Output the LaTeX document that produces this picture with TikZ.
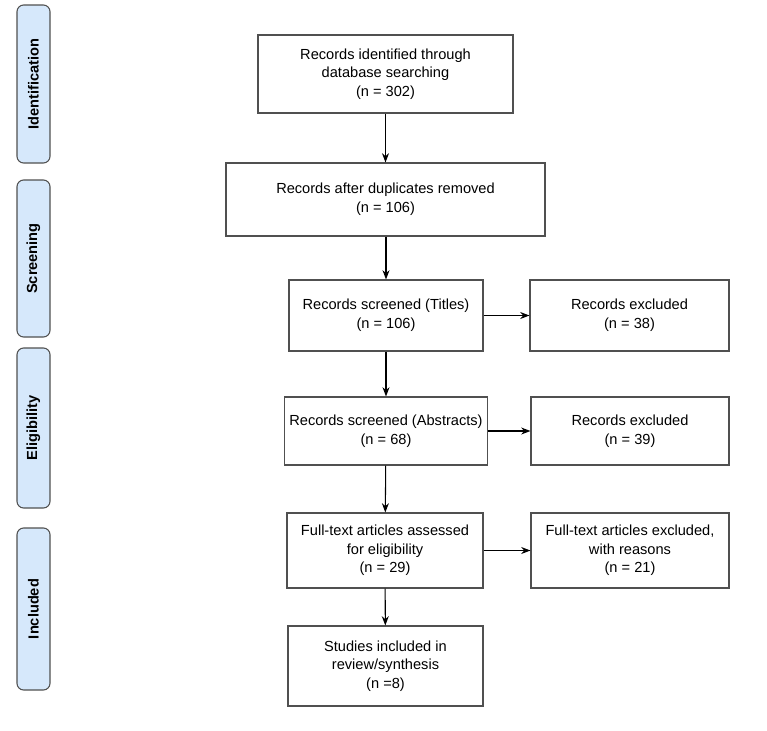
\documentclass[tikz,border=0pt]{standalone}
\usepackage{fontspec}
\setmainfont{Liberation Sans}
\usetikzlibrary{arrows.meta}
\usetikzlibrary{positioning}
\definecolor{phaseBlue}{RGB}{214,232,251}
\definecolor{boxGray}{RGB}{80,80,80}
\tikzset{
  phase/.style = {draw=boxGray,thick,fill=phaseBlue,rounded corners=5pt},
  stage/.style = {draw=boxGray,thick,align=center,font=\fontsize{11}{14}\selectfont},
  arrow/.style = {thick,-{Stealth[length=7pt]}},
}

\begin{document}
\begin{tikzpicture}[x=0.02646cm,y=-0.02646cm]
    \useasboundingbox (0,0) rectangle (767,730);

    % phases down the left side
    \foreach \name/\ya/\yb in {Identification/5/163,Screening/180/337,Eligibility/348/508,Included/528/690}{
      \draw[phase] (17,\ya) rectangle (50,\yb);
      \node[rotate=90,font=\bfseries\fontsize{11}{13}\selectfont] at (33.5,{(\ya+\yb)/2}) {\name};
    }

    \node[stage,minimum width=255*0.02646cm,minimum height=78*0.02646cm] (found) at (385.5,74)
      {Records identified through\\database searching\\(n = 302)};
    \node[stage,minimum width=319*0.02646cm,minimum height=73*0.02646cm] (dedup) at (385.5,199.5)
      {Records after duplicates removed\\(n = 106)};
    \node[stage,minimum width=194*0.02646cm,minimum height=71*0.02646cm] (titles) at (386,315.5)
      {Records screened (Titles)\\(n = 106)};
    \node[stage,minimum width=199*0.02646cm,minimum height=71*0.02646cm] (exTitles) at (629.5,315.5)
      {Records excluded\\(n = 38)};
    \node[stage,minimum width=194*0.02646cm,minimum height=68*0.02646cm] (abstracts) at (386,431)
      {Records screened (Abstracts)\\(n = 68)};
    \node[stage,minimum width=198*0.02646cm,minimum height=68*0.02646cm] (exAbstracts) at (630,431)
      {Records excluded\\(n = 39)};
    \node[stage,minimum width=196*0.02646cm,minimum height=75*0.02646cm] (fulltext) at (385,550.5)
      {Full-text articles assessed\\for eligibility\\(n = 29)};
    \node[stage,minimum width=198*0.02646cm,minimum height=75*0.02646cm] (exFulltext) at (630,550.5)
      {Full-text articles excluded,\\with reasons\\(n = 21)};
    \node[stage,minimum width=195*0.02646cm,minimum height=80*0.02646cm] (included) at (385.5,666)
      {Studies included in\\review/synthesis\\(n =8)};

    \draw[arrow] (found) -- (dedup);
    \draw[arrow] (dedup.south -| titles) -- (titles);
    \draw[arrow] (titles) -- (abstracts);
    \draw[arrow] (abstracts) -- (fulltext);
    \draw[arrow] (fulltext) -- (included);
    \draw[arrow] (titles) -- (exTitles);
    \draw[arrow] (abstracts) -- (exAbstracts);
    \draw[arrow] (fulltext) -- (exFulltext);

\end{tikzpicture}
\end{document}
